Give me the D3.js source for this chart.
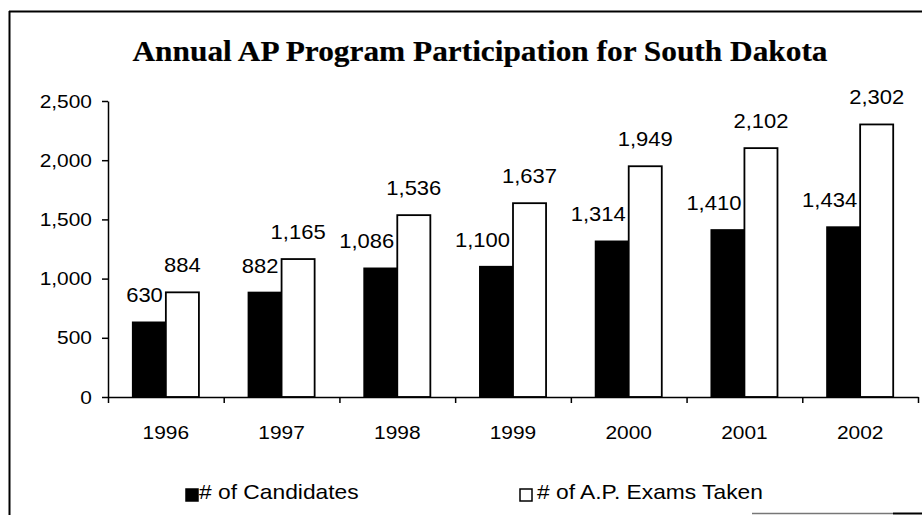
<!DOCTYPE html>
<html>
<head>
<meta charset="utf-8">
<script src="https://cdn.jsdelivr.net/npm/d3@7"></script>
<style>
	body { margin: 0; background: #fff; }
	svg { display: block; }
	text { font-family: "Liberation Sans", Arial, sans-serif; fill: #000; }
	.title { font-family: "Liberation Serif", "Times New Roman", serif; font-weight: bold; stroke: #000; stroke-width: 0.2px; }
</style>
</head>
<body>
<script>
// chart data
const years = ["1996", "1997", "1998", "1999", "2000", "2001", "2002"];
const candidates = [630, 882, 1086, 1100, 1314, 1410, 1434];
const examsTaken = [884, 1165, 1536, 1637, 1949, 2102, 2302];
const seriesNames = ["# of Candidates", "# of A.P. Exams Taken"];
const yTicks = [0, 500, 1000, 1500, 2000, 2500];

const svgWidth = 922;
const svgHeight = 515;
const margin = { left: 108, right: 4, top: 101, bottom: 118 };
const stretch = 1.1; // the scanned text is a bit wider than Arial

const svg = d3
	.select("body")
	.append("svg")
	.attr("width", svgWidth)
	.attr("height", svgHeight);

// frame of the scanned page
svg.append("line").attr("x1", 9.5).attr("x2", 9.5).attr("y1", 11).attr("y2", 515)
	.attr("stroke", "#000").attr("stroke-width", 2);
svg.append("line").attr("x1", 9).attr("x2", 922).attr("y1", 11.5).attr("y2", 11.5)
	.attr("stroke", "#000").attr("stroke-width", 2);
svg.append("line").attr("x1", 752).attr("x2", 893).attr("y1", 513.5).attr("y2", 513.5)
	.attr("stroke", "#777").attr("stroke-width", 1.5);
svg.append("line").attr("x1", 893).attr("x2", 922).attr("y1", 513.5).attr("y2", 513.5)
	.attr("stroke", "#000").attr("stroke-width", 2);

svg
	.append("text")
	.attr("class", "title")
	.attr("x", 480)
	.attr("y", 61)
	.attr("text-anchor", "middle")
	.attr("font-size", 30)
	.attr("textLength", 695)
	.attr("lengthAdjust", "spacingAndGlyphs")
	.text("Annual AP Program Participation for South Dakota");

const data = years.map((year, i) => ({
	year,
	values: [
		{ series: seriesNames[0], value: candidates[i] },
		{ series: seriesNames[1], value: examsTaken[i] },
	],
}));

const xScale = d3
	.scaleBand()
	.domain(years)
	.range([margin.left, svgWidth - margin.right])
	.padding(0);

// excel style gap width of 150%
const xSecondScale = d3
	.scaleBand()
	.domain(seriesNames)
	.range([0, xScale.bandwidth()])
	.paddingInner(0)
	.paddingOuter(0.75);

const yScale = d3
	.scaleLinear()
	.domain([0, 2500])
	.range([svgHeight - margin.bottom, margin.top]);

const fillScale = d3.scaleOrdinal().domain(seriesNames).range(["#000", "#fff"]);

// bars
const barsLayer = svg.append("g").attr("class", "bars");
const groups = barsLayer
	.selectAll("g")
	.data(data)
	.join("g")
	.attr("transform", (d) => `translate(${xScale(d.year)} 0)`);

groups
	.selectAll("rect")
	.data((d) => d.values)
	.join("rect")
	.attr("x", (d) => xSecondScale(d.series))
	.attr("y", (d) => yScale(d.value))
	.attr("width", xSecondScale.bandwidth())
	.attr("height", (d) => yScale(0) - yScale(d.value))
	.attr("fill", (d) => fillScale(d.series))
	.attr("stroke", "#000")
	.attr("stroke-width", 1.8);

// value labels, black bar labels sit toward the left
groups
	.selectAll("text")
	.data((d) => d.values)
	.join("text")
	.attr("text-anchor", (d, i) => (i === 0 ? "end" : "middle"))
	.attr("font-size", 20)
	.attr("transform", (d, i) => {
		const x = i === 0
			? xSecondScale(d.series) + xSecondScale.bandwidth() - 3
			: xSecondScale(d.series) + xSecondScale.bandwidth() / 2;
		return `translate(${x} ${yScale(d.value) - 20}) scale(${stretch} 1)`;
	})
	.text((d) => d3.format(",")(d.value));

// axes
const axesLayer = svg.append("g").attr("class", "axes");

const yAxis = axesLayer
	.append("g")
	.attr("transform", `translate(${margin.left} 0)`)
	.call(d3.axisLeft(yScale).tickValues(yTicks).tickSize(6).tickSizeOuter(0).tickFormat(d3.format(",")));
yAxis.select(".domain").attr("stroke-width", 1.5);
yAxis.selectAll(".tick line").attr("stroke-width", 1.5);
yAxis
	.selectAll(".tick text")
	.attr("x", null)
	.attr("font-size", 19)
	.attr("font-family", null)
	.attr("transform", `translate(-16 0) scale(${stretch} 1)`);

// category boundary ticks
const indexScale = d3.scaleLinear().domain([0, years.length]).range(xScale.range());
const xTicks = axesLayer
	.append("g")
	.attr("transform", `translate(0 ${yScale(0)})`)
	.call(d3.axisBottom(indexScale).tickValues(d3.range(years.length + 1)).tickSize(6).tickSizeOuter(0).tickFormat(() => ""));
xTicks.select(".domain").attr("stroke-width", 1.5);
xTicks.selectAll(".tick line").attr("stroke-width", 1.5);

const xLabels = axesLayer
	.append("g")
	.attr("transform", `translate(0 ${yScale(0)})`)
	.call(d3.axisBottom(xScale).tickSize(0));
xLabels.select(".domain").remove();
xLabels
	.selectAll(".tick text")
	.attr("y", null)
	.attr("dy", null)
	.attr("font-size", 19)
	.attr("font-family", null)
	.attr("transform", `translate(0 42) scale(${stretch} 1)`);

// legend
const legendItems = [
	{ name: seriesNames[0], box: 186, text: 199 },
	{ name: seriesNames[1], box: 520, text: 537 },
];
const legend = svg.append("g").attr("class", "legend");
legendItems.forEach((item) => {
	legend
		.append("rect")
		.attr("x", item.box)
		.attr("y", 489)
		.attr("width", 12)
		.attr("height", 12)
		.attr("fill", fillScale(item.name))
		.attr("stroke", "#000")
		.attr("stroke-width", 1.5);
	legend
		.append("text")
		.attr("font-size", 20)
		.attr("transform", `translate(${item.text} 499) scale(1.14 1)`)
		.text(item.name);
});
</script>
</body>
</html>
